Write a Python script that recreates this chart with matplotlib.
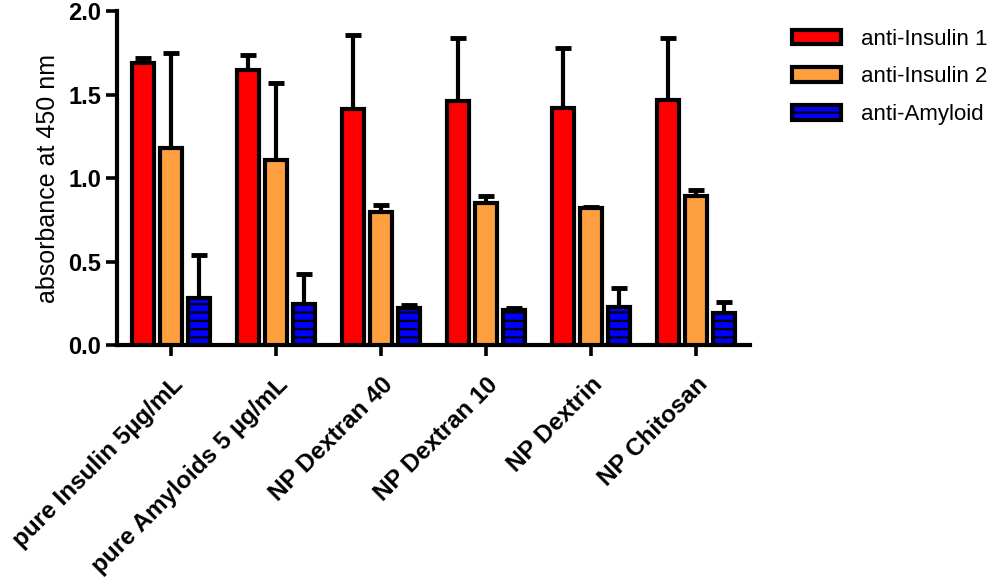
import matplotlib.pyplot as plt
import numpy as np

plt.rcParams['font.family'] = ['Liberation Sans', 'DejaVu Sans']
plt.rcParams['hatch.linewidth'] = 1.6

# data
groups = ['pure Insulin 5µg/mL', 'pure Amyloids 5 µg/mL', 'NP Dextran 40',
          'NP Dextran 10', 'NP Dextrin', 'NP Chitosan']
series = ['anti-Insulin 1', 'anti-Insulin 2', 'anti-Amyloid']
insulin1 = [1.69, 1.65, 1.415, 1.46, 1.42, 1.47]
insulin1_err = [0.03, 0.09, 0.44, 0.38, 0.36, 0.37]
insulin2 = [1.18, 1.11, 0.80, 0.85, 0.82, 0.89]
insulin2_err = [0.57, 0.46, 0.04, 0.04, 0.005, 0.04]
amyloid = [0.28, 0.245, 0.22, 0.21, 0.23, 0.19]
amyloid_err = [0.26, 0.18, 0.02, 0.01, 0.11, 0.07]

colors = ['#ff0000', '#ffa040', '#0000ff']
hatches = [None, None, '--']

fig = plt.figure(figsize=(9.95, 5.83), dpi=100)
ax = fig.add_axes([0.1176, 0.408, 0.636, 0.573])

x = np.arange(len(groups))
offsets = [-0.27, 0, 0.27]
width = 0.21
values = [insulin1, insulin2, amyloid]
errors = [insulin1_err, insulin2_err, amyloid_err]

for vals, errs, off, col, hat, name in zip(values, errors, offsets, colors, hatches, series):
    ax.errorbar(x + off, vals, yerr=[np.zeros(len(vals)), errs], fmt='none',
                ecolor='black', elinewidth=3, capsize=6, capthick=3.5, zorder=2)
    ax.bar(x + off, vals, width, color=col, edgecolor='black', linewidth=3,
           hatch=hat, label=name, zorder=3)

ax.set_xlim(-0.514, 5.514)
ax.set_ylim(0, 2.0)
ax.set_yticks([0, 0.5, 1.0, 1.5, 2.0])
ax.set_yticklabels(['0.0', '0.5', '1.0', '1.5', '2.0'], fontsize=17, fontweight='bold')
ax.set_xticks(x)
ax.set_xticklabels(groups, rotation=45, ha='right', rotation_mode='anchor',
                   fontsize=17.5, fontweight='bold')
ax.set_ylabel('absorbance at 450 nm', fontsize=18, labelpad=6)

for s in ['top', 'right']:
    ax.spines[s].set_visible(False)
for s in ['left', 'bottom']:
    ax.spines[s].set_linewidth(3)
ax.tick_params(direction='out', width=2.6, length=8)
ax.tick_params(axis='x', pad=12)

fig.legend(loc='upper left', bbox_to_anchor=(0.776, 0.985), frameon=False,
           fontsize=16, handlelength=2.2, handleheight=0.65, labelspacing=0.75,
           handletextpad=0.9)

fig.savefig('out.png', dpi=100)
